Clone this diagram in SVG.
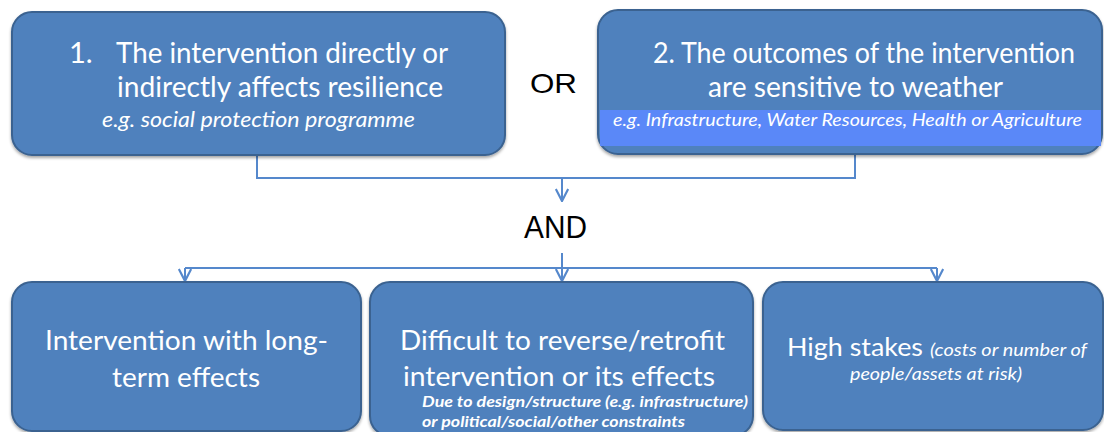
<svg xmlns="http://www.w3.org/2000/svg" width="1104" height="432" viewBox="0 0 1104 432">
<style>
.box{fill:#4f81bd;stroke:#3a6290;stroke-width:2;filter:url(#sh)}
.t{font-family:Lato,"Open Sans","Noto Sans",sans-serif;fill:#ffffff}
.m{font-size:29px}
.mb{font-size:27px}
.i{font-style:italic}
.lbl{font-family:"Liberation Sans",Arial,sans-serif;fill:#000000}
.c{fill:none;stroke:#5588cc;stroke-width:2}
</style>
<defs>
<filter id="sh" x="-5%" y="-5%" width="110%" height="115%">
<feDropShadow dx="0" dy="2" stdDeviation="1.5" flood-color="#000" flood-opacity="0.35"/>
</filter>
<marker id="arr" viewBox="0 0 14 14" refX="13" refY="7" markerWidth="14" markerHeight="14" markerUnits="userSpaceOnUse" orient="auto">
<path d="M1,0.8 L13,7 L1,13.2" fill="none" stroke="#5588cc" stroke-width="2.2"/>
</marker>
</defs>
<rect width="1104" height="432" fill="#ffffff"/>

<g id="connectors">
<path class="c" d="M257 155 V178 H855 V155"/>
<path class="c" d="M562 178 V201" marker-end="url(#arr)"/>
<path class="c" d="M562 253 V268"/>
<path class="c" d="M185 268 H937"/>
<path class="c" d="M185 268 V281" marker-end="url(#arr)"/>
<path class="c" d="M562 268 V281" marker-end="url(#arr)"/>
<path class="c" d="M937 268 V281" marker-end="url(#arr)"/>
</g>

<g id="node-1">
<rect class="box" x="12" y="12" width="493" height="143" rx="20"/>
<text class="t m" x="69" y="63">1.</text>
<text class="t m" x="116" y="63" textLength="332" lengthAdjust="spacingAndGlyphs">The intervention directly or</text>
<text class="t m" x="117" y="97" textLength="326" lengthAdjust="spacingAndGlyphs">indirectly affects resilience</text>
<text class="t i" x="102" y="127" font-size="21" textLength="313" lengthAdjust="spacingAndGlyphs">e.g. social protection programme</text>
</g>

<g id="or-label">
<text class="lbl" x="530" y="93" font-size="28" textLength="47" lengthAdjust="spacingAndGlyphs">OR</text>
</g>

<g id="node-2">
<rect class="box" x="598" y="10" width="504" height="144" rx="20"/>
<rect x="600" y="110" width="501" height="36" fill="#5a88f8"/>
<text class="t m" x="653" y="63" textLength="422" lengthAdjust="spacingAndGlyphs">2. The outcomes of the intervention</text>
<text class="t m" x="708" y="97" textLength="295" lengthAdjust="spacingAndGlyphs">are sensitive to weather</text>
<text class="t i" x="613" y="126" font-size="17" textLength="469" lengthAdjust="spacingAndGlyphs">e.g. Infrastructure, Water Resources, Health or Agriculture</text>
</g>

<g id="and-label">
<text class="lbl" x="524" y="238" font-size="31" textLength="63" lengthAdjust="spacingAndGlyphs">AND</text>
</g>

<g id="node-a">
<rect class="box" x="12" y="282" width="349" height="149" rx="20"/>
<text class="t mb" x="45" y="350" textLength="283" lengthAdjust="spacingAndGlyphs">Intervention with long-</text>
<text class="t mb" x="112" y="387" textLength="148" lengthAdjust="spacingAndGlyphs">term effects</text>
</g>

<g id="node-b">
<rect class="box" x="370" y="282" width="383" height="154" rx="20"/>
<text class="t mb" x="400" y="350" textLength="325" lengthAdjust="spacingAndGlyphs">Difficult to reverse/retrofit</text>
<text class="t mb" x="403" y="386" textLength="312" lengthAdjust="spacingAndGlyphs">intervention or its effects</text>
<text class="t i" x="422" y="407" font-size="16" font-weight="bold" textLength="326" lengthAdjust="spacingAndGlyphs">Due to design/structure (e.g. infrastructure)</text>
<text class="t i" x="422" y="427" font-size="16" font-weight="bold" textLength="263" lengthAdjust="spacingAndGlyphs">or political/social/other constraints</text>
</g>

<g id="node-c">
<rect class="box" x="763" y="282" width="340" height="148" rx="20"/>
<text class="t" x="787" y="356" font-size="25" textLength="136" lengthAdjust="spacingAndGlyphs">High stakes</text>
<text class="t i" x="930" y="356" font-size="18" textLength="157" lengthAdjust="spacingAndGlyphs">(costs or number of</text>
<text class="t i" x="850" y="380" font-size="18" textLength="172" lengthAdjust="spacingAndGlyphs">people/assets at risk)</text>
</g>
</svg>
